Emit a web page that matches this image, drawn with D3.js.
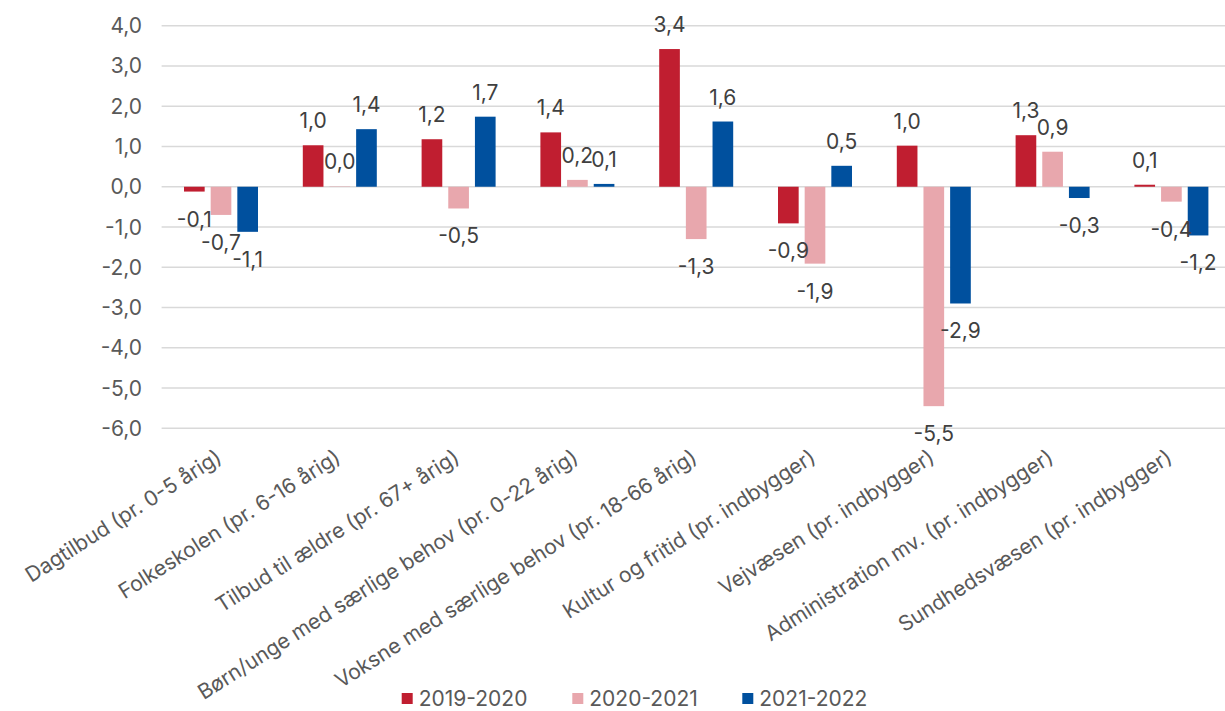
<!DOCTYPE html>
<html>
<head>
<meta charset="utf-8">
<script src="https://cdn.jsdelivr.net/npm/d3@7"></script>
<style>
  body { margin: 0; background: #fff; }
  svg text { font-family: Inter, "Open Sans", sans-serif; }
</style>
</head>
<body>
<div id="chart"></div>
<script>
var categories = [
  "Dagtilbud (pr. 0-5 årig)",
  "Folkeskolen (pr. 6-16 årig)",
  "Tilbud til ældre (pr. 67+ årig)",
  "Børn/unge med særlige behov (pr. 0-22 årig)",
  "Voksne med særlige behov (pr. 18-66 årig)",
  "Kultur og fritid (pr. indbygger)",
  "Vejvæsen (pr. indbygger)",
  "Administration mv. (pr. indbygger)",
  "Sundhedsvæsen (pr. indbygger)"
];
var seriesNames = ["2019-2020", "2020-2021", "2021-2022"];
var v2019 = [-0.12, 1.03, 1.18, 1.35, 3.42, -0.91, 1.02, 1.28, 0.05];
var v2020 = [-0.70, 0.01, -0.54, 0.17, -1.30, -1.91, -5.45, 0.87, -0.37];
var v2021 = [-1.12, 1.43, 1.74, 0.07, 1.62, 0.52, -2.90, -0.28, -1.21];
var yTicks = [4, 3, 2, 1, 0, -1, -2, -3, -4, -5, -6];
var colors = ["#C01E30", "#E8A7AD", "#00509E"];

var W = 1225, H = 711;
var svg = d3.select("#chart").append("svg").attr("width", W).attr("height", H);

var y = d3.scaleLinear().domain([-6, 4]).range([428.3, 25.7]);
var x = d3.scaleBand().domain(categories).range([161.6, 1230.8]).padding(0);
var x1 = d3.scaleBand().domain(seriesNames).range([-37, 37]).paddingInner(0.225);
var fmt = function (v) { return d3.format(".1f")(v).replace(".", ",").replace("−", "-"); };

// gridlines
svg.append("g").selectAll("line").data(yTicks).enter().append("line")
  .attr("x1", 161.6).attr("x2", W)
  .attr("y1", function (d) { return y(d); }).attr("y2", function (d) { return y(d); })
  .attr("stroke", "#D9D9D9").attr("stroke-width", 1.5);

// y labels
svg.append("g").selectAll("text").data(yTicks).enter().append("text")
  .attr("x", 142).attr("y", function (d) { return y(d) + 7.5; })
  .attr("text-anchor", "end").attr("font-size", 21).attr("fill", "#595959")
  .text(function (d) { return fmt(d); });

var all = [v2019, v2020, v2021];
var bars = [];
all.forEach(function (vals, s) {
  vals.forEach(function (v, i) {
    bars.push({ cat: categories[i], s: seriesNames[s], si: s, v: v });
  });
});

svg.append("g").selectAll("rect").data(bars).enter().append("rect")
  .attr("x", function (d) { return x(d.cat) + x.bandwidth() / 2 + x1(d.s); })
  .attr("width", x1.bandwidth())
  .attr("y", function (d) { return Math.min(y(d.v), y(0)); })
  .attr("height", function (d) { return Math.abs(y(d.v) - y(0)); })
  .attr("fill", function (d) { return colors[d.si]; });

// data labels
svg.append("g").selectAll("text").data(bars).enter().append("text")
  .attr("x", function (d) { return x(d.cat) + x.bandwidth() / 2 + x1(d.s) + x1.bandwidth() / 2; })
  .attr("y", function (d) { return d.v >= 0 ? y(d.v) - 17 : y(d.v) + 35; })
  .attr("text-anchor", "middle").attr("font-size", 21).attr("fill", "#404040")
  .text(function (d) { return fmt(d.v); });

// category labels
svg.append("g").selectAll("text").data(categories).enter().append("text")
  .attr("transform", function (d) {
    return "translate(" + (x(d) + x.bandwidth() / 2 + 2) + ",461) rotate(-32.5)";
  })
  .attr("text-anchor", "end").attr("font-size", 21).attr("fill", "#595959")
  .text(function (d) { return d; });

// legend
var legX = [401.7, 572.3, 742.3];
var leg = svg.append("g").selectAll("g").data(seriesNames).enter().append("g")
  .attr("transform", function (d, i) { return "translate(" + legX[i] + ",693)"; });
leg.append("rect").attr("width", 11).attr("height", 11)
  .attr("fill", function (d, i) { return colors[i]; });
leg.append("text").attr("x", 17).attr("y", 13).attr("font-size", 21).attr("fill", "#595959")
  .text(function (d) { return d; });
</script>
</body>
</html>
